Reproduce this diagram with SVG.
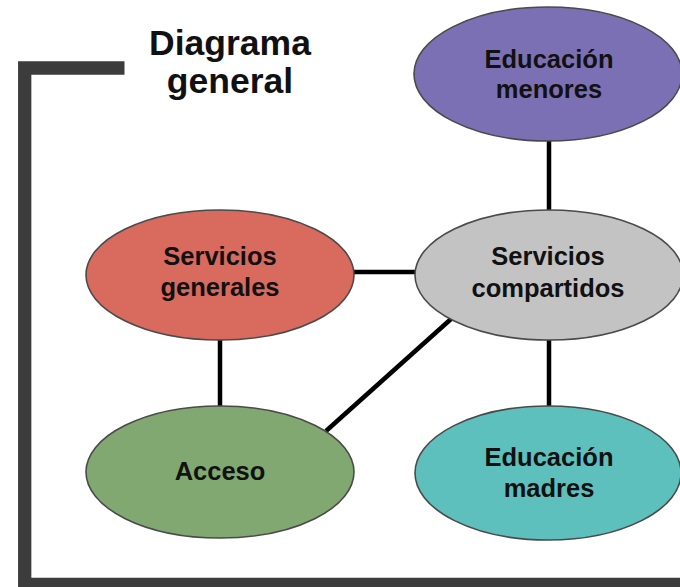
<svg xmlns="http://www.w3.org/2000/svg" width="680" height="587" viewBox="0 0 680 587">
<style>
.node ellipse{stroke:#4a4a4a;stroke-width:1.6}
.node text,.title{font-family:"Liberation Sans",Arial,sans-serif;font-weight:bold;fill:#111;text-anchor:middle}
.node text{font-size:25.5px}
.title{font-size:35.5px}
.conn line{stroke:#000;stroke-width:4.5;stroke-linecap:butt}
</style>
<rect width="680" height="587" fill="#fff"/>
<path d="M124.5 68 H24.7 V584.5 H680" fill="none" stroke="#3c3c3c" stroke-width="13.3"/>
<g id="title">
<text class="title" x="230" y="55">Diagrama</text>
<text class="title" x="230" y="93">general</text>
</g>
<g id="connectors" class="conn">
<line x1="549" y1="140" x2="549" y2="212"/>
<line x1="353" y1="272" x2="416" y2="272"/>
<line x1="220" y1="338" x2="220" y2="408"/>
<line x1="326" y1="431" x2="451" y2="319"/>
<line x1="549" y1="338" x2="549" y2="408"/>
</g>
<g id="educacion-menores" class="node">
<ellipse cx="548" cy="74" rx="134" ry="67" fill="#7c70b4"/>
<text x="549" y="68">Educación</text>
<text x="549" y="98">menores</text>
</g>
<g id="servicios-compartidos" class="node">
<ellipse cx="549" cy="275" rx="134" ry="65" fill="#c3c3c3"/>
<text x="548" y="265">Servicios</text>
<text x="548" y="297">compartidos</text>
</g>
<g id="servicios-generales" class="node">
<ellipse cx="220" cy="275" rx="134" ry="65" fill="#d86a5e"/>
<text x="220" y="265">Servicios</text>
<text x="220" y="296">generales</text>
</g>
<g id="acceso" class="node">
<ellipse cx="220" cy="472" rx="134" ry="66" fill="#80a870"/>
<text x="220" y="480">Acceso</text>
</g>
<g id="educacion-madres" class="node">
<ellipse cx="548" cy="473" rx="133" ry="67" fill="#5ec0bd"/>
<text x="549" y="466">Educación</text>
<text x="549" y="497">madres</text>
</g>
</svg>
